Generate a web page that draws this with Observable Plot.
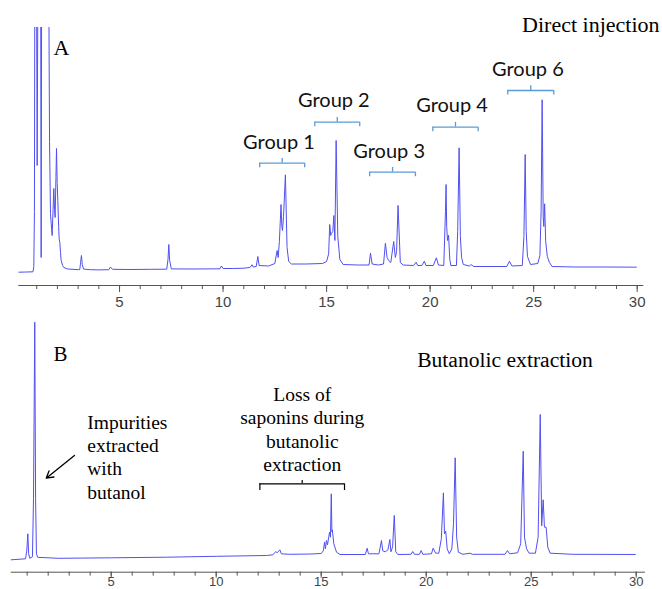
<!DOCTYPE html>
<html><head><meta charset="utf-8">
<script src="https://cdn.jsdelivr.net/npm/d3@7"></script>
<script src="https://cdn.jsdelivr.net/npm/@observablehq/plot@0.6"></script>
<style>body{margin:0;background:#fff} #chart svg{display:block}</style>
</head><body><div id="chart"></div><script>
// ---------- data ----------
const minorTicks = d3.range(1, 31);
const majorTicks = [5, 10, 15, 20, 25, 30];
const axisExtentA = [0.135, 30.32];
const axisExtentB = [0.24, 30.44];

// Panel A trace: [retention time (min), signal]
const traceA = [
[0.14,-0.7],[0.5,-0.5],[0.82,-0.3],[0.86,5],[0.89,60],[0.91,300],[0.99,300],[1.022,106],[1.06,300],[1.19,300],[1.215,14],[1.24,300],[1.58,300],[1.62,130],[1.666,58],[1.72,42],[1.746,36],[1.79,62],[1.827,83],[1.86,62],[1.89,54],[1.93,95],[1.956,123],[1.99,88],[2.02,71],[2.06,45],[2.084,33],[2.117,29],[2.15,19],[2.181,11],[2.25,6],[2.31,4],[2.5,2.5],[3.0,1.8],[3.08,2],[3.12,9],[3.16,16],[3.2,7],[3.26,2.4],[3.6,1.8],[4.0,1.6],[4.48,1.8],[4.56,4.5],[4.66,2.2],[5.5,2.0],[6.5,2.2],[7.28,2.3],[7.34,12],[7.38,27],[7.42,11],[7.5,2.6],[8.5,2.5],[9.85,2.7],[9.92,5.5],[10.0,3.0],[10.5,3.0],[11.0,3.3],[11.30,4],[11.40,6.7],[11.46,4.5],[11.6,5],[11.68,15],[11.74,6],[12.2,5.5],[12.5,8],[12.61,21],[12.66,14],[12.72,30],[12.80,67],[12.84,45],[12.87,41],[12.92,55],[13.01,96.7],[13.09,24],[13.17,10],[13.3,7.5],[14.0,7.5],[14.8,8],[15.0,10],[15.10,17.7],[15.15,47],[15.2,36],[15.23,38],[15.3,40],[15.35,56],[15.40,31],[15.46,131],[15.54,35],[15.64,12],[15.8,7],[16.5,6.5],[17.05,6.5],[17.12,18.3],[17.2,7.5],[17.5,6.5],[17.75,7.5],[17.84,28.3],[17.92,14],[18.0,11],[18.1,9],[18.24,30],[18.32,14],[18.38,20],[18.45,66],[18.56,9],[18.7,6.5],[19.2,6],[19.32,9.3],[19.4,6],[19.6,6],[19.72,10.3],[19.8,6],[20.15,6],[20.30,13.7],[20.4,6.5],[20.66,6],[20.74,60],[20.77,87],[20.80,45],[20.84,31],[20.89,36.3],[20.95,12],[21.0,6],[21.27,6],[21.33,40],[21.40,123.7],[21.46,35],[21.52,14],[21.6,7],[21.9,5.5],[21.98,7],[22.1,5],[23.7,5],[23.83,10.3],[23.95,5.5],[24.45,6],[24.53,35],[24.59,117],[24.64,40],[24.70,15],[24.85,7],[25.2,8],[25.30,16],[25.36,60],[25.41,171.7],[25.46,55],[25.49,45],[25.53,67.7],[25.58,30],[25.66,15],[25.76,9],[25.89,5],[27,4.5],[28.5,4.5],[30.31,4.3]
];

// Panel B trace
const traceB = [
[0.24,-1],[0.92,0],[0.98,8],[1.03,25],[1.07,5],[1.12,0.5],[1.25,2],[1.30,60],[1.36,236.6],[1.40,60],[1.44,5],[1.5,1.5],[2.5,0.5],[5,1],[7.7,1.6],[10,2.5],[12.4,3.3],[12.7,4],[12.84,7.3],[12.9,6],[13.03,9],[13.1,5],[13.5,4.5],[14.5,4.8],[15.0,5.3],[15.1,8],[15.16,16.6],[15.2,10],[15.25,18.3],[15.3,14],[15.36,22],[15.40,26.7],[15.44,21.6],[15.48,65],[15.51,27],[15.53,29],[15.6,15],[15.73,6.6],[15.9,4.3],[17.1,4.3],[17.19,10.6],[17.25,5],[17.75,5],[17.87,18.3],[17.93,8],[18.05,7],[18.18,9],[18.27,19.3],[18.32,7],[18.40,12],[18.48,43.3],[18.55,7],[18.65,4.3],[19.28,4.5],[19.36,7.3],[19.44,4.5],[19.68,4.5],[19.76,8.3],[19.84,4.5],[20.25,5],[20.33,10.6],[20.45,5.6],[20.6,5.6],[20.72,20],[20.82,66],[20.87,25],[20.93,27.6],[21.0,10],[21.1,5],[21.22,10],[21.30,35],[21.38,101],[21.45,21.6],[21.53,6.6],[21.75,4.5],[22.08,5.6],[22.2,4.5],[23.75,4.5],[23.87,8.3],[23.97,5],[24.35,6],[24.5,15],[24.62,107.6],[24.68,21.6],[24.78,10],[24.9,5.6],[25.2,5.6],[25.33,21.6],[25.43,144.3],[25.50,33],[25.57,59],[25.63,31.6],[25.71,31.6],[25.79,11.6],[25.9,5.6],[27,4.5],[30.44,4.3]
];

// Group annotations (panel A)
const groupNames = ["Group 1", "Group 2", "Group 3", "Group 4", "Group 6"];
const groupLabelX = [12.70, 15.35, 18.02, 21.06, 24.72];
const groupLabelY = [123, 164.3, 113.7, 159.3, 196];
const bracketStart = [11.77, 14.43, 17.08, 20.13, 23.75];
const bracketEnd = [13.94, 16.60, 19.29, 22.32, 25.97];
const bracketY = [108.3, 149.3, 99.3, 144.3, 181];

// Panel B annotation
const lossText = "Loss of\nsaponins during\nbutanolic\nextraction";
const lossBracket = {x1: 12.08, x2: 16.11, y: 75};
const impuritiesText = "Impurities\nextracted\nwith\nbutanol";
const impuritiesArrow = {x1: 3.25, y1: 103.3, x2: 1.905, y2: 80.6};

// ---------- drawing ----------
const serif = "'Liberation Serif', 'Times New Roman', serif";
const sans = "Lato, 'Liberation Sans', sans-serif";
const tickFont = "'Liberation Sans Narrow', 'Arial Narrow', 'Liberation Sans', sans-serif";
const traceColor = "#5050f0";
const bracketColor = "#5b9bd5";

function axisMarks(extent, yMin, majorSize, padding, size) {
  return [
    Plot.ruleY([yMin], {x1: extent[0], x2: extent[1], stroke: "#555", strokeWidth: 1}),
    Plot.axisX({ticks: minorTicks, tickSize: 4, tickFormat: () => "", stroke: "#555"}),
    Plot.axisX({ticks: majorTicks, tickSize: majorSize, tickPadding: padding, fontSize: size,
      fontFamily: tickFont, fill: "#444", stroke: "#555"})
  ];
}

const idx = d3.range(groupNames.length);

const plotA = Plot.plot({
  width: 662, height: 310,
  marginTop: 27, marginBottom: 25, marginLeft: 15.5, marginRight: 25.3,
  x: {domain: [0, 30]},
  y: {domain: [-14, 244], axis: null},
  style: {background: "white", overflow: "visible"},
  marks: [
    ...axisMarks(axisExtentA, -14, 7, 4, 15),
    Plot.line(traceA, {x: d => d[0], y: d => d[1], stroke: traceColor, strokeWidth: 1, clip: true}),
    Plot.ruleY(idx, {x1: i => bracketStart[i], x2: i => bracketEnd[i], y: i => bracketY[i], stroke: bracketColor, strokeWidth: 1.3}),
    Plot.ruleX(idx, {x: i => bracketStart[i], y1: i => bracketY[i], y2: i => bracketY[i] - 4.5, stroke: bracketColor, strokeWidth: 1.3}),
    Plot.ruleX(idx, {x: i => bracketEnd[i], y1: i => bracketY[i], y2: i => bracketY[i] - 4.5, stroke: bracketColor, strokeWidth: 1.3}),
    Plot.ruleX(idx, {x: i => (bracketStart[i] + bracketEnd[i]) / 2, y1: i => bracketY[i], y2: i => bracketY[i] + 4.8, stroke: bracketColor, strokeWidth: 1.3}),
    Plot.text(idx, {x: i => groupLabelX[i], y: i => groupLabelY[i], text: i => groupNames[i], lineAnchor: "bottom",
      fontSize: 20, fontFamily: sans, fill: "#111"}),
    Plot.text(["A"], {x: [1.81], y: [216.7], text: d => d, textAnchor: "start", lineAnchor: "bottom", fontSize: 22, fontFamily: serif, fill: "#000"}),
    Plot.text(["Direct injection"], {x: [24.44], y: [239.3], text: d => d, textAnchor: "start", lineAnchor: "bottom", fontSize: 22, fontFamily: serif, fill: "#000"})
  ]
});

const plotB = Plot.plot({
  width: 662, height: 279,
  marginTop: 11.7, marginBottom: 17.3, marginLeft: 5.7, marginRight: 26.3,
  x: {domain: [0, 30]},
  y: {domain: [-13.4, 236.6], axis: null},
  style: {background: "white", overflow: "visible"},
  marks: [
    ...axisMarks(axisExtentB, -13.4, 6, -1, 13),
    Plot.line(traceB, {x: d => d[0], y: d => d[1], stroke: traceColor, strokeWidth: 1, clip: true}),
    Plot.ruleY([lossBracket], {x1: "x1", x2: "x2", y: "y", stroke: "#000", strokeWidth: 1.2}),
    Plot.ruleX([lossBracket], {x: "x1", y1: "y", y2: d => d.y - 6.7, stroke: "#000", strokeWidth: 1.2}),
    Plot.ruleX([lossBracket], {x: "x2", y1: "y", y2: d => d.y - 6.7, stroke: "#000", strokeWidth: 1.2}),
    Plot.ruleX([lossBracket], {x: d => (d.x1 + d.x2) / 2, y1: "y", y2: d => d.y + 3.3, stroke: "#000", strokeWidth: 1.2}),
    Plot.text([lossText], {x: [14.1], y: [87.6], text: d => d, textAnchor: "middle", lineAnchor: "bottom", lineHeight: 1.2,
      fontSize: 19.5, fontFamily: serif, fill: "#000"}),
    Plot.text([impuritiesText], {x: [3.86], y: [60], text: d => d, textAnchor: "start", lineAnchor: "bottom", lineHeight: 1.2,
      fontSize: 19.5, fontFamily: serif, fill: "#000"}),
    Plot.arrow([impuritiesArrow], {x1: "x1", y1: "y1", x2: "x2", y2: "y2", stroke: "#000", strokeWidth: 1.3, headLength: 9, bend: 0}),
    Plot.text(["B"], {x: [2.25], y: [198.3], text: d => d, textAnchor: "start", lineAnchor: "bottom", fontSize: 21, fontFamily: serif, fill: "#000"}),
    Plot.text(["Butanolic extraction"], {x: [19.57], y: [191.6], text: d => d, textAnchor: "start", lineAnchor: "bottom", fontSize: 21.6, fontFamily: serif, fill: "#000"})
  ]
});

document.getElementById("chart").append(plotA, plotB);
</script></body></html>
